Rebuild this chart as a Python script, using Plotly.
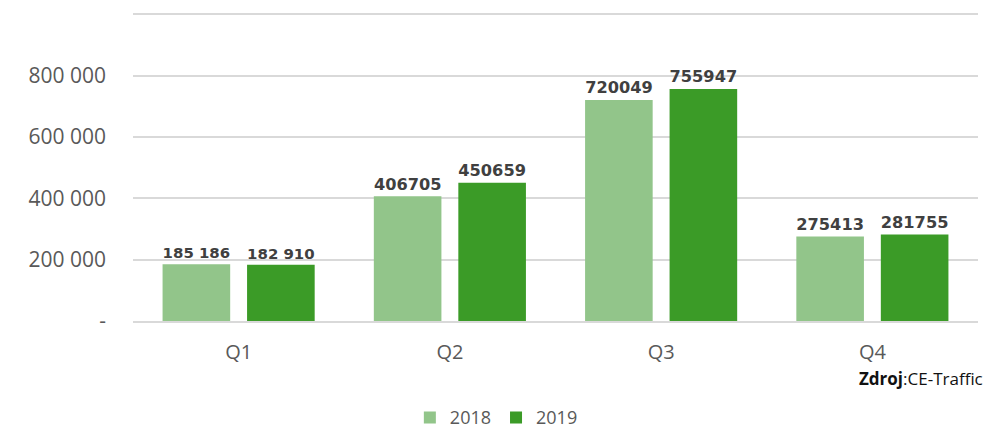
import plotly.graph_objects as go

quarters = ['Q1', 'Q2', 'Q3', 'Q4']
values_2018 = [185186, 406705, 720049, 275413]
values_2019 = [182910, 450659, 755947, 281755]
labels_2018 = ['185 186', '406705', '720049', '275413']
labels_2019 = ['182 910', '450659', '755947', '281755']
y_ticks = [0, 200000, 400000, 600000, 800000, 1000000]
y_tick_text = ['-', '200 000', '400 000', '600 000', '800 000', '']

fig = go.Figure()

fig.add_trace(go.Bar(x=quarters, y=values_2018, name='2018',
                     marker_color='#92C58A',
                     text=labels_2018, textposition='outside'))
fig.add_trace(go.Bar(x=quarters, y=values_2019, name='2019',
                     marker_color='#3B9B27',
                     text=labels_2019, textposition='outside'))

fig.update_traces(textfont=dict(family='DejaVu Sans', size=18, color='#404040',
                                weight='bold'),
                  cliponaxis=False, marker_line_width=0)

# page body adds an 8px offset, so the figure is a bit smaller than the window
fig.update_layout(
    width=980, height=430,
    margin=dict(l=125, r=10, t=0, b=117, autoexpand=False),
    plot_bgcolor='white', paper_bgcolor='white',
    barmode='group', bargap=0.2, bargroupgap=0.2,
    font=dict(family='Open Sans', size=18, color='#595959'),
    showlegend=True,
    legend=dict(orientation='h', x=0.43, xanchor='center', y=-0.25,
                yanchor='top', font=dict(size=18, color='#595959'),
                itemwidth=30),
    annotations=[dict(text='<b>Zdroj</b>:CE-Traffic', xref='paper', yref='paper',
                      x=1.008, y=-0.14, xanchor='right', yanchor='top',
                      showarrow=False,
                      font=dict(family='Open Sans', size=17, color='#111111'))],
)

fig.update_xaxes(showline=True, linecolor='#D9D9D9', linewidth=1.5,
                 ticks='', ticklabelstandoff=12,
                 tickfont=dict(size=20, color='#595959'))
fig.update_yaxes(range=[0, 1020000], tickvals=y_ticks, ticktext=y_tick_text,
                 showgrid=True, gridcolor='#D9D9D9', gridwidth=1.5,
                 zeroline=False, ticks='', ticklabelstandoff=26,
                 tickfont=dict(size=21, color='#595959'))

fig.write_html('out.html')
